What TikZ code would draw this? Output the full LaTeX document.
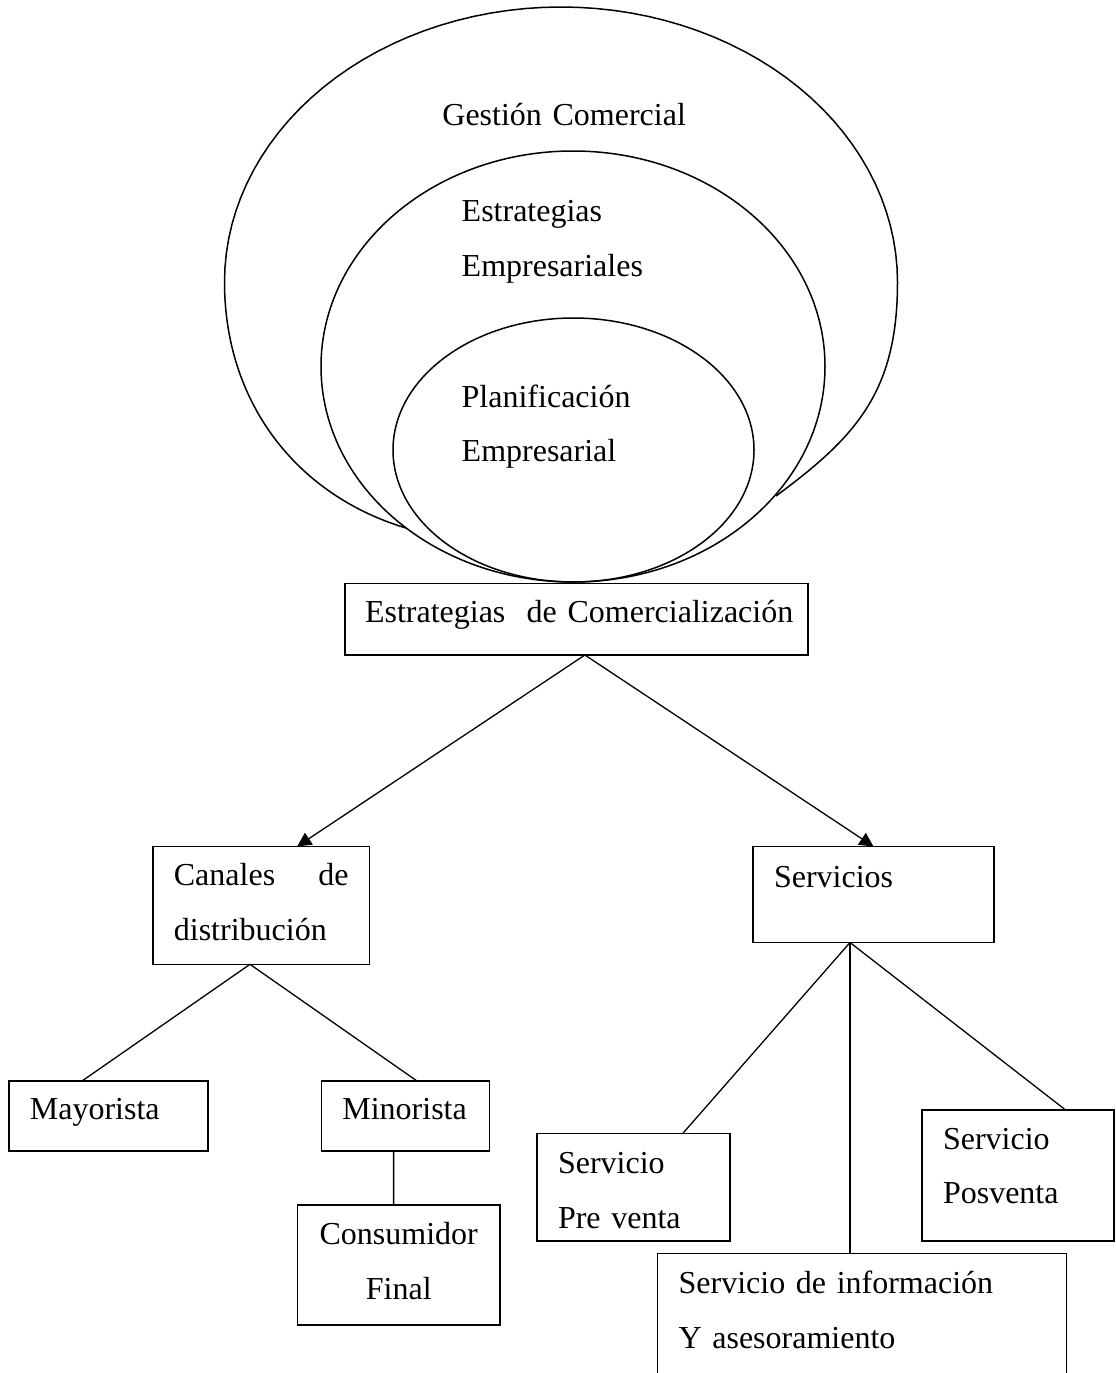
\documentclass[tikz,border=0pt]{standalone}
\usepackage{fontspec}
\setmainfont{Liberation Serif}
\usetikzlibrary{arrows.meta,positioning}

\begin{document}
\begin{tikzpicture}[x=1pt,y=-1pt,
  every node/.style={font=\fontsize{32}{54.5}\selectfont, inner sep=0pt, outer sep=0pt},
  ovalo/.style={line width=1.5pt},
  caja/.style={draw, line width=1.6pt, anchor=north west, inner xsep=21pt, inner ysep=0pt, align=left},
  linea/.style={line width=1.3pt},
  flecha/.style={line width=1.3pt, -{Triangle[length=14pt,width=14pt]}}]
\clip (0,0) rectangle (1116,1373);
\draw[ovalo, line join=round] (406,528) .. controls (296,495) and (224.5,402) .. (224.5,282) -- plot[domain=180:360, samples=61] ({561+336.5*cos(\x)}, {282+275*sin(\x)}) .. controls (897.5,392) and (856,436.8) .. (776,496);
\draw[ovalo] (573,366.5) ellipse[x radius=252pt, y radius=215.5pt];
\draw[ovalo] (573.5,450) ellipse[x radius=180.5pt, y radius=132pt];
\node[anchor=base west, text width=260pt, align=left] (gestion) at (442.4,125.4) {Gestión Comercial};
\node[anchor=base west, text width=200pt, align=left] (estrat) at (461.7,221.8) {Estrategias\\Empresariales};
\node[anchor=base west, text width=200pt, align=left] (planif) at (461.7,407) {Planificación\\Empresarial};
\node[caja, inner xsep=20pt, text width=423pt, text height=39.4pt, text depth=32.3pt] (comm) at (345,583.3) {\mbox{Estrategias\ \ de Comercialización}};
\node[caja, text width=174.7pt, text height=39.3pt, text depth=78.6pt] (canal) at (152.9,846.4) {Canales\hfill de\\distribución};
\node[caja, text width=199pt, text height=40.8pt, text depth=55.2pt] (serv) at (753,846.5) {Servicios};
\node[caja, text width=157.3pt, text height=38pt, text depth=32pt] (mayor) at (8.9,1081) {Mayorista};
\node[caja, text width=125.9pt, text height=38pt, text depth=32pt] (minor) at (321.4,1081) {Minorista};
\node[caja, align=center, text width=160.5pt, text height=39.6pt, text depth=80.4pt] (consum) at (297.5,1205) {Consumidor\\Final};
\node[caja, text width=151pt, text height=40pt, text depth=67.5pt] (prev) at (537,1133.5) {Servicio\\Pre venta};
\node[caja, text width=150pt, text height=39pt, text depth=92pt] (posv) at (922,1110) {Servicio\\Posventa};
\node[caja, text width=366.8pt, text height=40pt, text depth=106.5pt] (info) at (657.6,1253.5) {Servicio de información\\Y asesoramiento};
\draw[flecha] ([xshift=8.4pt]comm.south) -- ([xshift=36pt]canal.north);
\draw[flecha] ([xshift=8.4pt]comm.south) -- (serv.north);
\draw[linea] ([xshift=-11.25pt]canal.south) -- ([xshift=-26.55pt]mayor.north);
\draw[linea] ([xshift=-11.25pt]canal.south) -- ([xshift=11.65pt]minor.north);
\draw[linea] ([xshift=-11.75pt]minor.south) -- ([xshift=-5.15pt]consum.north);
\draw[linea] ([xshift=-23.5pt]serv.south) -- ([xshift=49.2pt]prev.north);
\draw[linea] ([xshift=-23.5pt]serv.south) -- ([xshift=-12pt]info.north);
\draw[linea] ([xshift=-23.5pt]serv.south) -- ([xshift=47.6pt]posv.north);
\end{tikzpicture}
\end{document}
